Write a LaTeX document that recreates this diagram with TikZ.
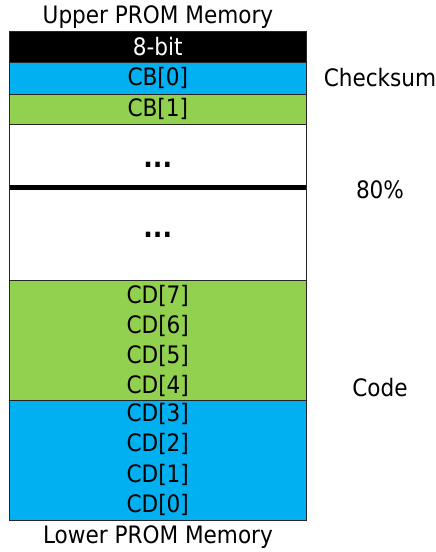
\documentclass[tikz,border=0pt]{standalone}
\usepackage{fontspec}
\setmainfont{DejaVu Sans Condensed}
\definecolor{romblue}{HTML}{00B0F0}
\definecolor{romgreen}{HTML}{92D050}
\begin{document}
\begin{tikzpicture}[x=1pt,y=-1pt,
  cell/.style={rectangle, inner sep=0pt, outer sep=0pt, minimum width=296.5pt, anchor=north west, font=\fontsize{24}{26}\selectfont},
  cellline/.style={draw=black!85, line width=0.8pt},
  lbl/.style={font=\fontsize{24}{26}\selectfont, inner sep=0pt},
  dots/.style={font=\fontsize{28}{30}\selectfont\bfseries, inner sep=0pt}]
\useasboundingbox[fill=white] (0,0) rectangle (436,552);

% memory column, top to bottom
\node[cell, fill=black, text=white, minimum height=31pt, cellline] (hdr) at (9.5,31) {8-bit};
\node[cell, fill=romblue, minimum height=32pt, cellline] (cb0) at (9.5,62) {CB[0]};
\node[cell, fill=romgreen, minimum height=30pt, cellline] (cb1) at (9.5,94) {CB[1]};
\node[cell, fill=white, minimum height=156pt, cellline] (free) at (9.5,124) {};
\node[cell, fill=romgreen, minimum height=120pt, cellline] (hi) at (9.5,280) {};
\node[cell, fill=romblue, minimum height=120pt, cellline] (lo) at (9.5,400) {};

% thick divider inside the unused area
\draw[line width=5pt] ([yshift=-63.5pt]free.north west) -- ([yshift=-63.5pt]free.north east);
\node[dots] (d1) at ([yshift=-41pt]free.north) {...};
\node[dots] (d2) at ([yshift=-111pt]free.north) {...};

% code bytes
\node[lbl] (cd7) at ([yshift=-16pt]hi.north) {CD[7]};
\node[lbl] (cd6) at ([yshift=-46pt]hi.north) {CD[6]};
\node[lbl] (cd5) at ([yshift=-76pt]hi.north) {CD[5]};
\node[lbl] (cd4) at ([yshift=-106pt]hi.north) {CD[4]};
\node[lbl] (cd3) at ([yshift=-14pt]lo.north) {CD[3]};
\node[lbl] (cd2) at ([yshift=-44pt]lo.north) {CD[2]};
\node[lbl] (cd1) at ([yshift=-75pt]lo.north) {CD[1]};
\node[lbl] (cd0) at ([yshift=-105pt]lo.north) {CD[0]};

% captions
\node[lbl] (upper) at (158,17) {Upper PROM Memory};
\node[lbl] (lower) at (158,537) {Lower PROM Memory};
\node[lbl] (chk) at (380,78) {Checksum};
\node[lbl] (pct) at (380,190) {80\%};
\node[lbl] (code) at (380,388) {Code};
\end{tikzpicture}
\end{document}
